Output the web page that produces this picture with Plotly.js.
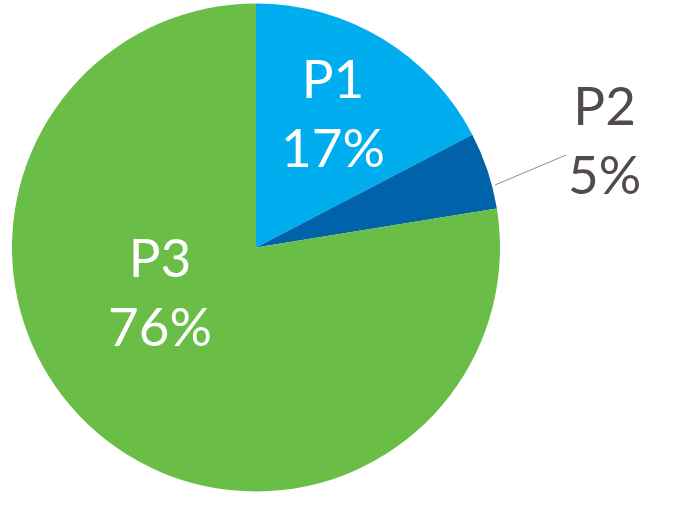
<!DOCTYPE html>
<html>
<head>
<meta charset="utf-8">
<script src="https://cdn.plot.ly/plotly-3.0.1.min.js"></script>
<style>html,body{margin:0;padding:0;background:#fff;}#chart{width:678px;height:509px;}</style>
</head>
<body>
<div id="chart"></div>
<script>
const categories = ['P1', 'P2', 'P3'];
const values = [17, 5, 76];
const percentLabels = ['17%', '5%', '76%'];
const colors = ['#00ADEE', '#0062A8', '#6ABD46'];

const W = 678, H = 509;
// label placement in pixels (layout config, not data)
const labelPos = [
  {x: 333, y: 112, color: '#ffffff', arrow: false},
  {x: 604, y: 139, color: '#524a4d', arrow: true, tipX: 495, tipY: 185},
  {x: 160, y: 291, color: '#ffffff', arrow: false}
];

const trace = {
  type: 'pie',
  labels: categories,
  values: values,
  sort: false,
  direction: 'clockwise',
  rotation: 0,
  textinfo: 'none',
  hoverinfo: 'label+percent',
  marker: {colors: colors, line: {width: 0}},
  domain: {x: [12 / W, 500 / W], y: [16 / H, 507 / H]},
  showlegend: false
};

const annotations = categories.map((c, i) => {
  const p = labelPos[i];
  const a = {
    text: c + '<br>' + percentLabels[i],
    xref: 'paper', yref: 'paper',
    font: {family: 'Lato, Calibri, sans-serif', size: 53, color: p.color},
    align: 'center',
    showarrow: false
  };
  if (p.arrow) {
    a.x = p.tipX / W; a.y = 1 - p.tipY / H;
    a.showarrow = true; a.arrowhead = 0; a.arrowwidth = 1; a.arrowcolor = '#8c8c8c';
    a.axref = 'pixel'; a.ayref = 'pixel';
    a.ax = p.x - p.tipX; a.ay = p.y - p.tipY;
  } else {
    a.x = p.x / W; a.y = 1 - p.y / H;
    a.xanchor = 'center'; a.yanchor = 'middle';
  }
  return a;
});

const layout = {
  width: W, height: H,
  margin: {l: 0, r: 0, t: 0, b: 0},
  paper_bgcolor: '#ffffff',
  annotations: annotations
};

Plotly.newPlot('chart', [trace], layout, {displayModeBar: false, staticPlot: true});
</script>
</body>
</html>
